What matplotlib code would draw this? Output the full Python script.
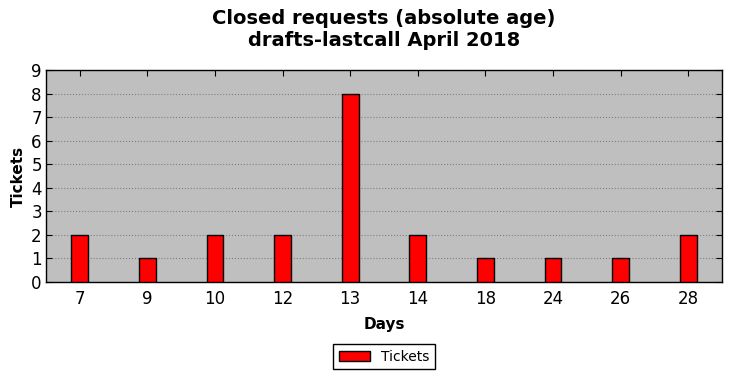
import numpy as np
import matplotlib
matplotlib.use('Agg')
import matplotlib.pyplot as plt

days = ['7', '9', '10', '12', '13', '14', '18', '24', '26', '28']
tickets = [2, 1, 2, 2, 8, 2, 1, 1, 1, 2]

fig = plt.figure(figsize=(7.32, 3.78), dpi=100)
ax = fig.add_axes([46 / 732, 1 - 282 / 378, 676 / 732, 212 / 378])
ax.set_facecolor('#bfbfbf')

x = np.arange(len(days))
ax.bar(x, tickets, width=0.25, color='red', edgecolor='black', linewidth=1,
       label='Tickets', zorder=3)

ax.set_xlim(-0.5, len(days) - 0.5)
ax.set_ylim(0, 9)
ax.set_xticks(x)
ax.set_xticklabels(days)
ax.set_yticks(range(10))
ax.tick_params(axis='both', direction='in', labelsize=12, length=4,
               top=True, right=True)
ax.tick_params(axis='x', pad=6)
ax.tick_params(axis='y', pad=3)
ax.yaxis.grid(True, linestyle=':', color='#808080', linewidth=0.8, zorder=0)
for s in ax.spines.values():
    s.set_linewidth(1)

ax.set_xlabel('Days', fontsize=11, fontweight='bold', labelpad=6)
ax.set_ylabel('Tickets', fontsize=11, fontweight='bold', labelpad=4)
ax.set_title('Closed requests (absolute age)\ndrafts-lastcall April 2018',
             fontsize=14, fontweight='bold', pad=17)

ax.legend(loc='upper center', bbox_to_anchor=(0.5, -0.26), fontsize=10,
          fancybox=False, edgecolor='black', framealpha=1,
          handlelength=2.2, borderpad=0.4)

fig.savefig('out.png', dpi=100)
